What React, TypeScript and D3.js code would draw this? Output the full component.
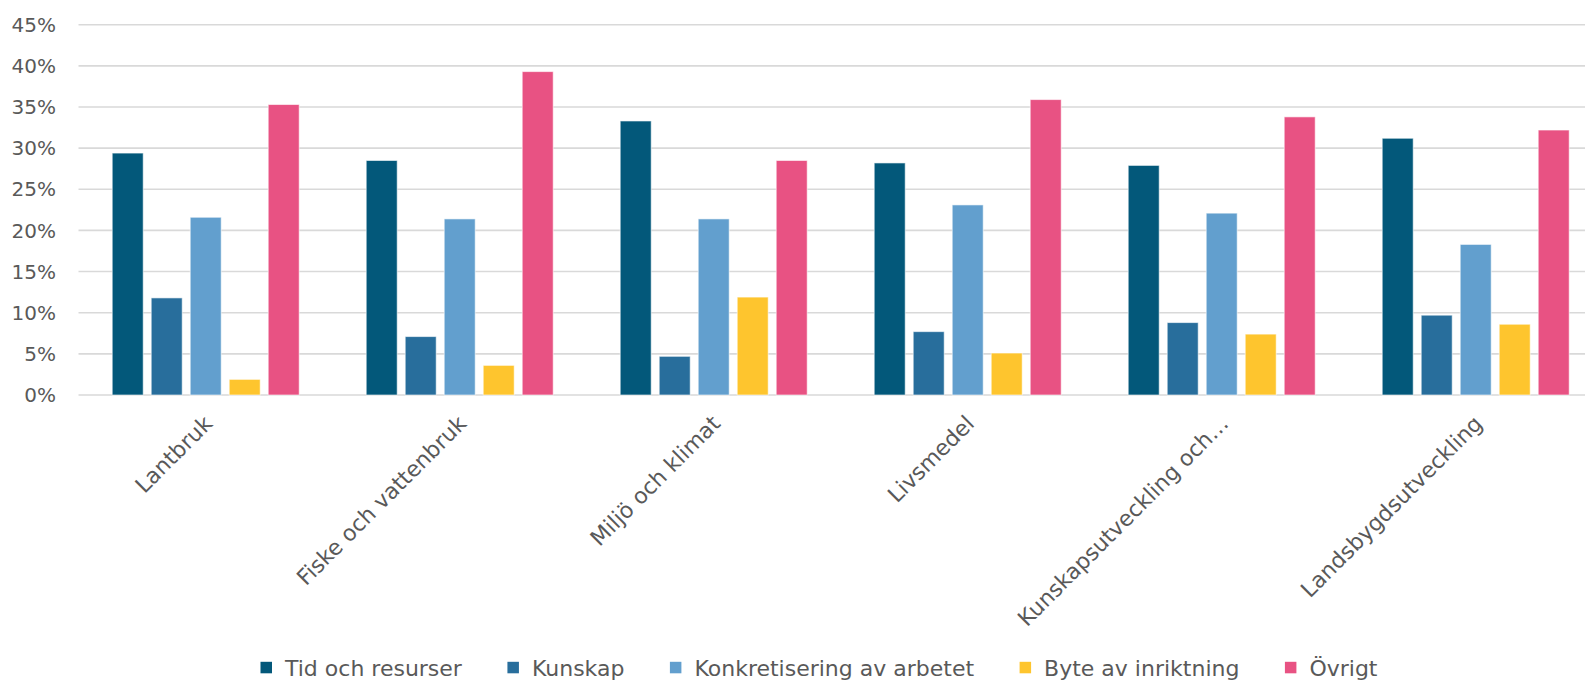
import React, { useEffect, useRef } from "react";
import * as d3 from "d3";

const categories = [
  "Lantbruk",
  "Fiske och vattenbruk",
  "Miljö och klimat",
  "Livsmedel",
  "Kunskapsutveckling och…",
  "Landsbygdsutveckling",
];
const seriesNames = [
  "Tid och resurser",
  "Kunskap",
  "Konkretisering av arbetet",
  "Byte av inriktning",
  "Övrigt",
];
const tidOchResurser = [29.4, 28.5, 33.3, 28.2, 27.9, 31.2];
const kunskap = [11.8, 7.1, 4.7, 7.7, 8.8, 9.7];
const konkretisering = [21.6, 21.4, 21.4, 23.1, 22.1, 18.3];
const byteAvInriktning = [1.9, 3.6, 11.9, 5.1, 7.4, 8.6];
const ovrigt = [35.3, 39.3, 28.5, 35.9, 33.8, 32.2];
const seriesColors = ["#03587A", "#286E9C", "#629FCE", "#FEC52E", "#E85283"];
const yTicks = [0, 5, 10, 15, 20, 25, 30, 35, 40, 45];

const seriesValues = [tidOchResurser, kunskap, konkretisering, byteAvInriktning, ovrigt];

const W = 1585;
const H = 680;
const FONT = "'DejaVu Sans', sans-serif";
const TEXT = "#595959";

export default function App() {
  const ref = useRef<SVGSVGElement>(null);

  useEffect(() => {
    const svg = d3.select(ref.current);
    svg.selectAll("*").remove();

    const plotLeft = 78.5;
    const y = d3.scaleLinear().domain([0, 45]).range([395, 24.7]);
    const x0 = d3.scaleBand<string>().domain(categories).range([78.7, 1602.7]).padding(0);
    const groupW = 187;
    const x1 = d3
      .scaleBand<string>()
      .domain(seriesNames)
      .range([0, groupW])
      .paddingInner(8 / 39)
      .paddingOuter(0);

    const g = svg.append("g");
    g.selectAll("line.grid")
      .data(yTicks)
      .join("line")
      .attr("x1", plotLeft)
      .attr("x2", W)
      .attr("y1", (d) => y(d))
      .attr("y2", (d) => y(d))
      .attr("stroke", "#d9d9d9")
      .attr("stroke-width", 1.6);

    g.selectAll("text.ytick")
      .data(yTicks)
      .join("text")
      .attr("x", 56)
      .attr("y", (d) => y(d))
      .attr("dy", "0.36em")
      .attr("text-anchor", "end")
      .attr("font-family", FONT)
      .attr("font-size", 20)
      .attr("fill", TEXT)
      .text((d) => `${d}%`);

    const rows = categories.map((c, i) => ({
      cat: c,
      vals: seriesNames.map((s, j) => ({ s, j, v: seriesValues[j][i] })),
    }));
    const groups = g
      .selectAll("g.grp")
      .data(rows)
      .join("g")
      .attr(
        "transform",
        (d) => `translate(${x0(d.cat)! + x0.bandwidth() / 2 - groupW / 2},0)`
      );
    groups
      .selectAll("rect")
      .data((d) => d.vals)
      .join("rect")
      .attr("x", (d) => x1(d.s)!)
      .attr("width", x1.bandwidth())
      .attr("y", (d) => y(d.v))
      .attr("height", (d) => y(0) - y(d.v))
      .attr("fill", (d) => seriesColors[d.j])
      .attr("stroke", "rgba(255,255,255,0.6)")
      .attr("stroke-width", 1);

    g.selectAll("text.cat")
      .data(categories)
      .join("text")
      .attr(
        "transform",
        (d) => `translate(${x0(d)! + x0.bandwidth() / 2 + 8},${425}) rotate(-45)`
      )
      .attr("text-anchor", "end")
      .attr("font-family", FONT)
      .attr("font-size", 22)
      .attr("fill", TEXT)
      .text((d) => d);

    const leg = svg.append("g");
    const items = leg.selectAll("g.item").data(seriesNames).join("g");
    items
      .append("rect")
      .attr("width", 11.5)
      .attr("height", 11.5)
      .attr("y", 661.8)
      .attr("fill", (_d, i) => seriesColors[i]);
    const texts = items
      .append("text")
      .attr("x", 24.5)
      .attr("y", 675.5)
      .attr("font-family", FONT)
      .attr("font-size", 22)
      .attr("fill", TEXT)
      .text((d) => d);
    const widths: number[] = [];
    texts.each(function () {
      widths.push((this as SVGTextElement).getComputedTextLength());
    });
    const gap = 45.5;
    const itemW = widths.map((w) => 24.5 + w);
    const total = d3.sum(itemW) + gap * (itemW.length - 1);
    let cx = 819 - total / 2;
    const offsets: number[] = [];
    itemW.forEach((w) => {
      offsets.push(cx);
      cx += w + gap;
    });
    items.attr("transform", (_d, i) => `translate(${offsets[i]},0)`);
  }, []);

  return (
    <svg
      ref={ref}
      width={W}
      height={H}
      style={{ position: "absolute", left: 0, top: 0, background: "#fff" }}
    />
  );
}
